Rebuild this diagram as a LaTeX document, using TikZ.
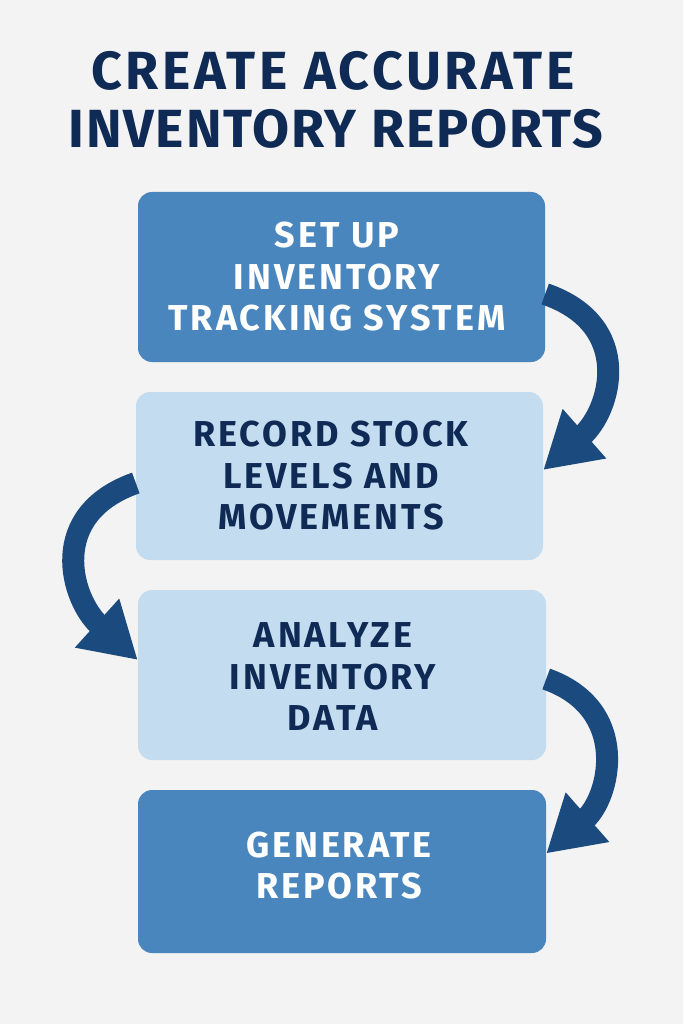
\documentclass[tikz,border=0pt]{standalone}
\usepackage{fontspec}
\setmainfont{Fira Sans}
\newfontfamily\boxfont[LetterSpace=8]{Fira Sans}
\newfontfamily\titlefontA[LetterSpace=6.7]{Fira Sans}
\newfontfamily\titlefontB[LetterSpace=3.4]{Fira Sans}
\usetikzlibrary{arrows.meta}
\definecolor{bgc}{HTML}{F3F3F3}
\definecolor{darkbox}{HTML}{4A86BE}
\definecolor{lightbox}{HTML}{C4DCF0}
\definecolor{arrowc}{HTML}{1B4A7E}
\definecolor{navy}{HTML}{0E2A55}
\tikzset{
  box/.style={rectangle, rounded corners=14pt, inner sep=0pt, draw=none},
  darkstep/.style={box, fill=darkbox},
  lightstep/.style={box, fill=lightbox},
  boxtext/.style={align=center, inner sep=0pt, font=\boxfont\fontsize{36}{41.5}\selectfont\bfseries},
  titletext/.style={text=navy, align=center, anchor=base, inner sep=0pt},
  flow/.style={draw=arrowc, line width=22pt, -{Triangle[length=55pt, width=62pt]}},
}
\begin{document}
\begin{tikzpicture}[x=1pt, y=-1pt]
\useasboundingbox (0,0) rectangle (683,1024);
\fill[bgc] (0,0) rectangle (683,1024);
% title
\node[titletext, font=\titlefontA\fontsize{53.7}{58}\selectfont\bfseries] (title1) at (333,90) {CREATE ACCURATE};
\node[titletext, font=\titlefontB\fontsize{53.7}{58}\selectfont\bfseries] (title2) at (336,148) {INVENTORY REPORTS};
% boxes
\node[darkstep, minimum width=407pt, minimum height=170pt] (b1) at (341.5,277) {};
\node[lightstep, minimum width=407pt, minimum height=168pt] (b2) at (339.5,476) {};
\node[lightstep, minimum width=408pt, minimum height=170pt] (b3) at (342,675) {};
\node[darkstep, minimum width=408pt, minimum height=163pt] (b4) at (342,871.5) {};
% texts
\node[boxtext, text=white] (t1) at (337,277) {SET UP\\INVENTORY\\TRACKING SYSTEM};
\node[boxtext, text=navy] (t2) at (331,476) {RECORD STOCK\\LEVELS AND\\MOVEMENTS};
\node[boxtext, text=navy] (t3) at (333,677) {ANALYZE\\INVENTORY\\DATA};
\node[boxtext, text=white] (t4) at (339,865.5) {GENERATE\\REPORTS};
% arrows
\draw[flow] ([yshift=-17pt]b1.east) .. controls +(90,31) and +(67.5,-59.4) .. ([yshift=6pt]b2.east);
\draw[flow] ([yshift=-7pt]b2.west) .. controls +(-90,31.5) and +(-66.6,-60.3) .. ([yshift=15pt]b3.west);
\draw[flow] ([yshift=-4pt]b3.east) .. controls +(85,30) and +(63.75,-56.1) .. ([yshift=18pt]b4.east);
\end{tikzpicture}
\end{document}
